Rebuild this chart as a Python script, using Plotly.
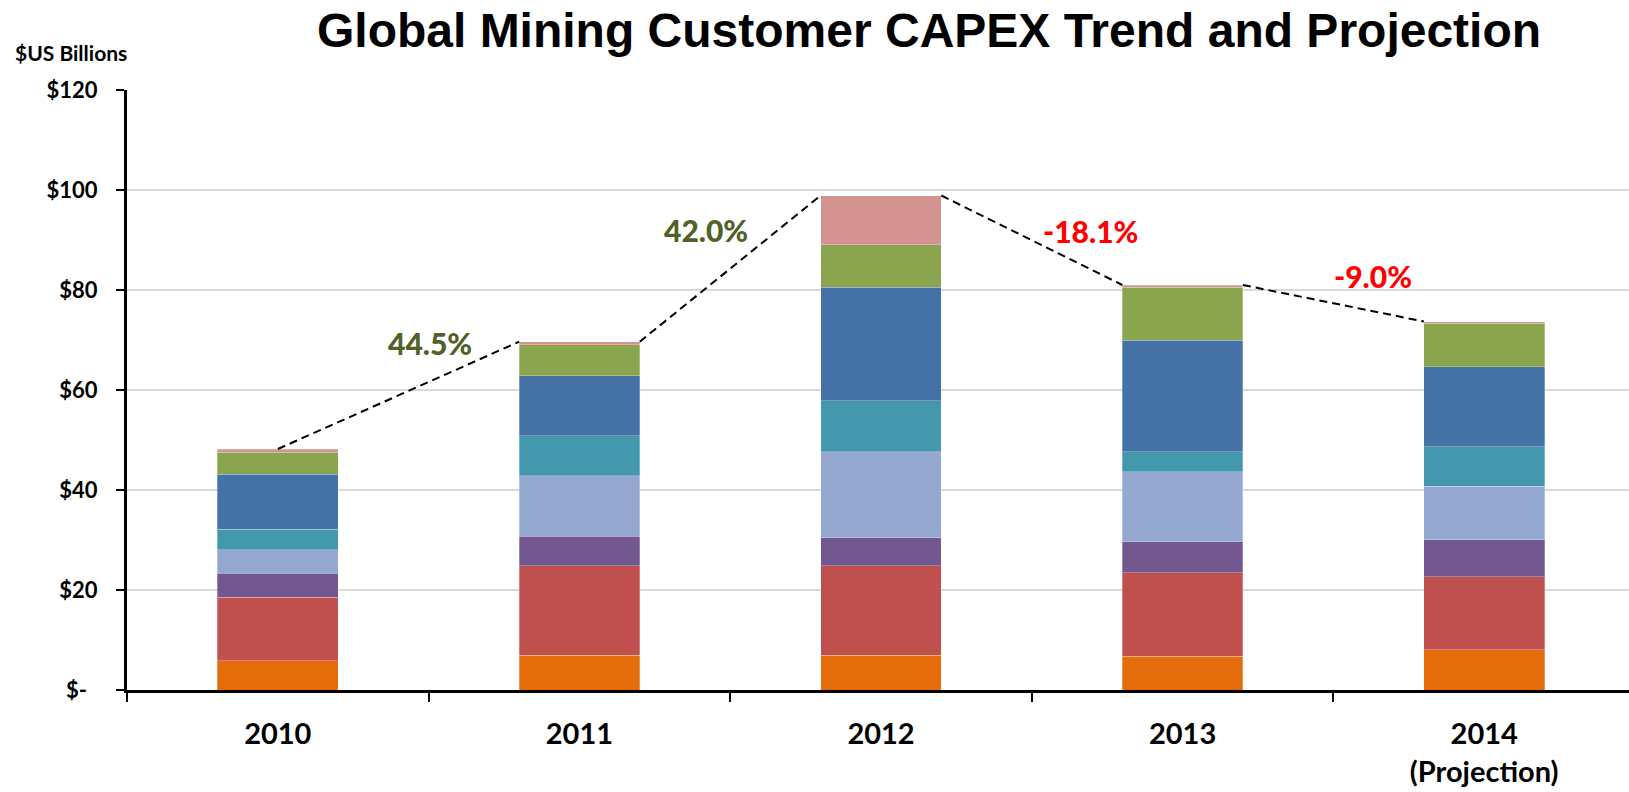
import plotly.graph_objects as go

# Years on the category axis (last one is a projection)
YEARS = ["2010", "2011", "2012", "2013", "2014"]
TICK_LABELS = ["2010", "2011", "2012", "2013", "2014<br>(Projection)"]

# Stacked CAPEX components, $US billions, bottom to top
SERIES_1 = [5.9, 7.0, 7.0, 6.8, 8.1]
SERIES_2 = [12.7, 17.9, 17.9, 16.7, 14.6]
SERIES_3 = [4.8, 5.9, 5.6, 6.2, 7.4]
SERIES_4 = [4.7, 12.1, 17.2, 14.0, 10.7]
SERIES_5 = [4.1, 8.0, 10.2, 4.0, 7.9]
SERIES_6 = [11.0, 11.95, 22.7, 22.3, 16.0]
SERIES_7 = [4.4, 6.2, 8.5, 10.6, 8.7]
SERIES_8 = [0.6, 0.6, 9.8, 0.4, 0.3]

Y_TICKS = [0, 20, 40, 60, 80, 100, 120]
Y_TICK_TEXT = ["$-\u00a0\u00a0", "$20", "$40", "$60", "$80", "$100", "$120"]

series = [SERIES_1, SERIES_2, SERIES_3, SERIES_4, SERIES_5, SERIES_6, SERIES_7, SERIES_8]
colors = ["#E46C0A", "#C0504D", "#72588E", "#95A9D0",
          "#4398AE", "#4472A6", "#8AA54D", "#D49391"]

totals = [round(sum(s[i] for s in series), 3) for i in range(len(YEARS))]

X_RANGE = [-0.5, 4.48]
BAR_W = 0.4
HALF = BAR_W / 2

fig = go.Figure()

for k, (vals, col) in enumerate(zip(series, colors)):
    fig.add_trace(go.Bar(
        x=TICK_LABELS, y=vals, name=f"Series {k + 1}",
        marker=dict(color=col, line=dict(color="rgba(255,255,255,0.35)", width=0.8)),
        hoverinfo="y",
    ))

# Dashed connectors between bar tops (first one starts at the bar centre)
lx, ly = [], []
for i in range(len(YEARS) - 1):
    x0 = i if i == 0 else i + HALF
    lx += [x0, i + 1 - HALF, None]
    ly += [totals[i], totals[i + 1], None]
fig.add_trace(go.Scatter(
    x=lx, y=ly, mode="lines", xaxis="x2", yaxis="y",
    line=dict(color="black", width=2, dash="8px,5px"),
    hoverinfo="skip", showlegend=False,
))

# Year-over-year change labels
label_pos = [(0.503, 69.4), (1.42, 92.0), (2.696, 91.8), (3.631, 82.8)]
annotations = []
for i, (px, py) in enumerate(label_pos):
    chg = (totals[i + 1] / totals[i] - 1) * 100
    annotations.append(dict(
        x=px, y=py, xref="x2", yref="y", showarrow=False,
        text=f"{chg:.1f}%",
        font=dict(family="Lato", size=30, weight=900,
                  color="#4F6228" if chg >= 0 else "#FF0000"),
        xanchor="center", yanchor="middle",
    ))

annotations.append(dict(
    x=-0.0759, y=1.0633, xref="paper", yref="paper", showarrow=False,
    text="$US Billions", xanchor="left", yanchor="middle",
    font=dict(family="Lato", size=21, weight="bold", color="black"),
))

fig.update_layout(
    width=1629, height=792,
    margin=dict(l=127, r=0, t=90, b=102),
    paper_bgcolor="white", plot_bgcolor="white",
    barmode="stack", bargap=1 - BAR_W,
    showlegend=False,
    title=dict(
        text="<b>Global Mining Customer CAPEX Trend and Projection</b>",
        x=0.5703, xref="container", xanchor="center",
        y=1 - 30 / 792, yref="container", yanchor="middle",
        font=dict(family="Liberation Sans", size=48, color="black"),
    ),
    xaxis=dict(
        type="category", range=X_RANGE,
        showline=True, linecolor="black", linewidth=3,
        ticks="outside", tickson="boundaries", ticklen=9, tickwidth=2, tickcolor="black",
        showgrid=False, ticklabelstandoff=16,
        tickfont=dict(family="Lato", size=29, color="black", weight="bold"),
    ),
    xaxis2=dict(overlaying="x", type="linear", range=X_RANGE, visible=False),
    yaxis=dict(
        range=[0, 120], tickmode="array", tickvals=Y_TICKS, ticktext=Y_TICK_TEXT,
        showline=True, linecolor="black", linewidth=3,
        ticks="outside", ticklen=8, tickwidth=2, tickcolor="black",
        showgrid=True, gridcolor="#D9D9D9", gridwidth=2, zeroline=False,
        ticklabelstandoff=14,
        tickfont=dict(family="Lato", size=22, color="black", weight="bold"),
    ),
    annotations=annotations,
)

fig.write_html("out.html")
